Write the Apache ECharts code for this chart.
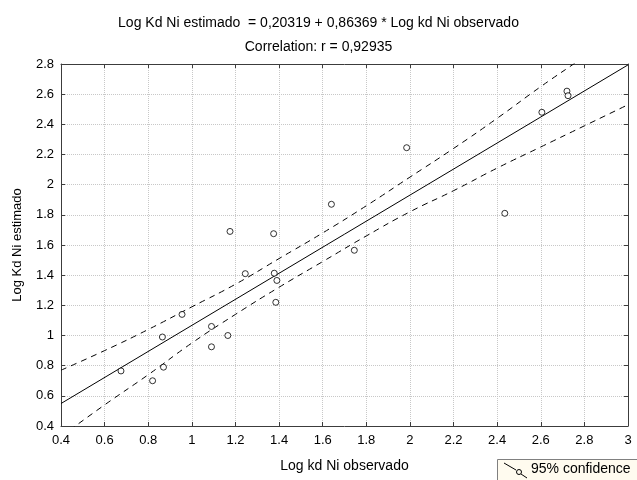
<!DOCTYPE html>
<html>
<head>
<meta charset="utf-8">
<script src="https://cdn.jsdelivr.net/npm/echarts@6/dist/echarts.min.js"></script>
<style>
  html, body { margin: 0; padding: 0; background: #fff; }
  #chart { width: 637px; height: 480px; }
</style>
</head>
<body>
<div id="chart"></div>
<script>
var observed  = [0.675, 0.82, 0.865, 0.87, 0.955, 1.09, 1.09, 1.165, 1.175, 1.245, 1.375, 1.378, 1.39, 1.385, 1.64, 1.745, 1.985, 2.435, 2.605, 2.72, 2.725];
var estimated = [0.765, 0.70, 0.99, 0.79, 1.14, 1.06, 0.925, 1.00, 1.69, 1.41, 1.675, 1.413, 1.365, 1.22, 1.87, 1.565, 2.245, 1.81, 2.48, 2.62, 2.59];

// fitted line ends
var fitX = [0.4, 3.0];
var fitY = [0.549, 2.794];

// 95% confidence band, read at each x tick
var bandX     = [0.4, 0.6, 0.8, 1.0, 1.2, 1.4, 1.6, 1.8, 2.0, 2.2, 2.4, 2.6, 2.8, 3.0];
var bandUpper = [0.77, 0.90, 1.04, 1.19, 1.34, 1.51, 1.68, 1.86, 2.05, 2.24, 2.44, 2.65, 2.85, 3.06];
var bandLower = [0.33, 0.54, 0.74, 0.95, 1.14, 1.32, 1.49, 1.66, 1.82, 1.96, 2.11, 2.25, 2.39, 2.53];

function pairs(xs, ys) {
  var out = [];
  for (var i = 0; i < xs.length; i++) out.push([xs[i], ys[i]]);
  return out;
}

var font = 'Liberation Sans, Arial, sans-serif';
var tickFmt = function (v) { return String(+v.toFixed(1)); };

var axisBase = {
  type: 'value',
  interval: 0.2,
  axisLine: { show: true, lineStyle: { color: '#3c3c3c', width: 1 } },
  axisTick: { show: true, inside: true, length: 4, lineStyle: { color: '#3c3c3c' } }
};

var chart = echarts.init(document.getElementById('chart'));

var option = {
  animation: false,
  title: [{
    text: 'Log Kd Ni estimado  = 0,20319 + 0,86369 * Log kd Ni observado',
    left: 'center', top: 11,
    textStyle: { fontFamily: font, fontSize: 14, fontWeight: 'normal', color: '#000' }
  }, {
    text: 'Correlation: r = 0,92935',
    left: 'center', top: 35,
    textStyle: { fontFamily: font, fontSize: 14, fontWeight: 'normal', color: '#000' }
  }],
  grid: { left: 61, right: 9, top: 64, bottom: 54 },
  xAxis: [
    Object.assign({}, axisBase, {
      min: 0.4, max: 3.0, position: 'bottom',
      name: 'Log kd Ni observado', nameLocation: 'middle', nameGap: 33,
      nameTextStyle: { fontFamily: font, fontSize: 14, color: '#000' },
      axisLabel: { formatter: tickFmt, margin: 8, fontFamily: font, fontSize: 13, color: '#000' },
      splitLine: { show: true, lineStyle: { color: '#c8c8c8', type: 'dotted' } }
    }),
    Object.assign({}, axisBase, {
      min: 0.4, max: 3.0, position: 'top',
      axisLabel: { show: false }, splitLine: { show: false }
    })
  ],
  yAxis: [
    Object.assign({}, axisBase, {
      min: 0.4, max: 2.8, position: 'left',
      name: 'Log Kd Ni estimado', nameLocation: 'middle', nameGap: 37, nameRotate: 90,
      nameTextStyle: { fontFamily: font, fontSize: 13, color: '#000' },
      axisLabel: { formatter: tickFmt, margin: 7, fontFamily: font, fontSize: 13, color: '#000' },
      splitLine: { show: true, lineStyle: { color: '#c8c8c8', type: 'dotted' } }
    }),
    Object.assign({}, axisBase, {
      min: 0.4, max: 2.8, position: 'right',
      axisLabel: { show: false }, splitLine: { show: false }
    })
  ],
  series: [{
    name: 'data',
    type: 'scatter',
    symbol: 'circle',
    symbolSize: 6,
    itemStyle: { color: '#fff', borderColor: '#000', borderWidth: 1 },
    data: pairs(observed, estimated),
    z: 5
  }, {
    name: 'fit',
    type: 'line',
    showSymbol: false,
    lineStyle: { color: '#000', width: 1 },
    data: pairs(fitX, fitY)
  }, {
    name: '95% confidence',
    type: 'line',
    smooth: true,
    showSymbol: false,
    clip: true,
    lineStyle: { color: '#000', width: 1, type: [6, 5] },
    data: pairs(bandX, bandUpper)
  }, {
    name: '95% confidence',
    type: 'line',
    smooth: true,
    showSymbol: false,
    clip: true,
    lineStyle: { color: '#000', width: 1, type: [6, 5] },
    data: pairs(bandX, bandLower)
  }],
  // legend box in the lower right corner
  graphic: [{
    type: 'rect',
    shape: { x: 497.5, y: 459.5, width: 150, height: 30 },
    style: { fill: '#fffbef', stroke: '#808080', lineWidth: 1 }
  }, {
    type: 'polyline',
    shape: { points: [[504, 463], [516, 470]] },
    style: { stroke: '#000', lineWidth: 1, fill: null }
  }, {
    type: 'polyline',
    shape: { points: [[521, 474], [527, 478]] },
    style: { stroke: '#000', lineWidth: 1, fill: null }
  }, {
    type: 'circle',
    shape: { cx: 519, cy: 472, r: 2.5 },
    style: { fill: '#fffbef', stroke: '#000', lineWidth: 1 }
  }, {
    type: 'text',
    left: 531, top: 462,
    style: { text: '95% confidence', fontFamily: font, fontSize: 14, fill: '#000' }
  }]
};

chart.setOption(option);
window.onresize = chart.resize;
</script>
</body>
</html>
